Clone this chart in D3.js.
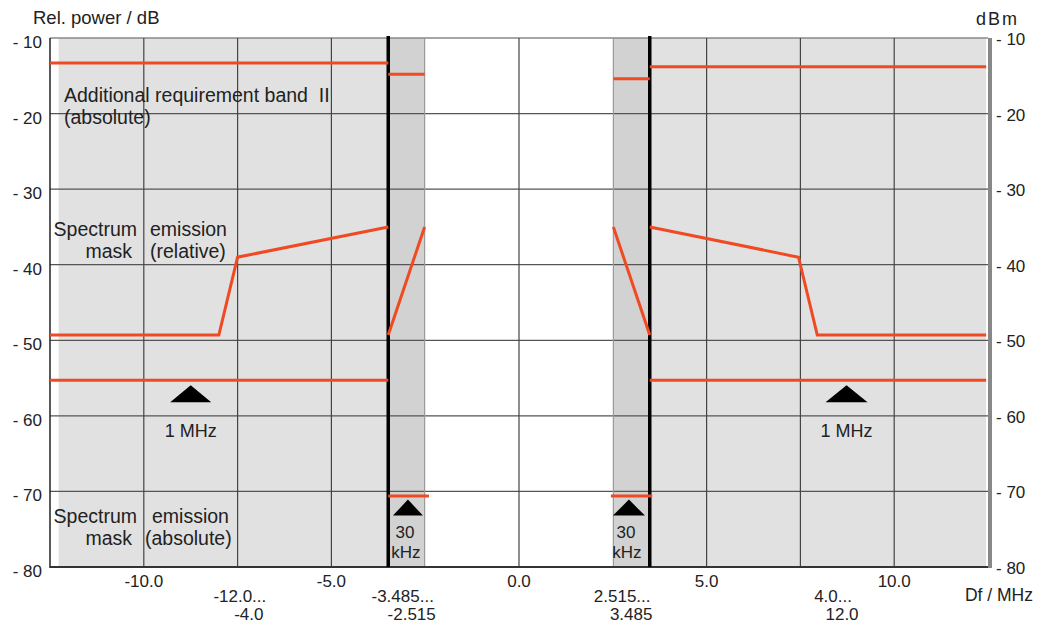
<!DOCTYPE html>
<html>
<head>
<meta charset="utf-8">
<script src="https://cdn.jsdelivr.net/npm/d3@7"></script>
<style>
  body { margin: 0; background: #fff; }
  text { font-family: "Liberation Sans", Arial, sans-serif; fill: #222; }
</style>
</head>
<body>
<div id="chart"></div>
<script>
// y ticks (dB) and x ticks (MHz)
const yTicks = [-10, -20, -30, -40, -50, -60, -70, -80];
const xTicks = [-10, -5, 0, 5, 10];
const xTickLabels = ["-10.0", "-5.0", "0.0", "5.0", "10.0"];
const xGrid = [-10, -7.5, -5, -2.515, 0, 2.515, 5, 7.5, 10];
const edgeLines = [-3.485, 3.485];

// range labels under the axis: position, first line, second line
const rangePos = [-7.44, -3.1, 2.75, 8.37];
const rangeTop = ["-12.0...", "-3.485...", "2.515...", "4.0..."];
const rangeBottom = ["-4.0", "-2.515", "3.485", "12.0"];

// shaded regions
const lightBands = [[-12.27, -3.485], [3.485, 12.45]];
const darkBands = [[-3.485, -2.515], [2.515, 3.485]];

// mask segments, [MHz, dB]
const addReq = [
  [[-12.5, -13.3], [-3.485, -13.3]],
  [[-3.485, -14.8], [-2.515, -14.8]],
  [[2.515, -15.4], [3.485, -15.4]],
  [[3.485, -13.8], [12.45, -13.8]]
];
const relMask = [
  [[-12.5, -49.3], [-8.0, -49.3], [-7.5, -39], [-3.485, -35]],
  [[-3.485, -49.3], [-2.515, -35]],
  [[2.515, -35], [3.485, -49.3]],
  [[3.485, -35], [7.45, -39], [7.95, -49.3], [12.45, -49.3]]
];
const absMask1M = [
  [[-12.5, -55.3], [-3.485, -55.3]],
  [[3.485, -55.3], [12.45, -55.3]]
];
const absMask30k = [
  [[-3.485, -70.6], [-2.4, -70.6]],
  [[2.45, -70.6], [3.55, -70.6]]
];

// resolution bandwidth markers
const rbwX = [-8.75, 8.73, -2.96, 2.93];
const rbwY = [-58.2, -58.2, -73.2, -73.2];
const rbwW = [41, 42, 30, 32];
const rbwH = [17, 17, 16, 16];

const width = 1045, height = 625;
const svg = d3.select("#chart").append("svg")
  .attr("width", width).attr("height", height);

const x = d3.scaleLinear().domain([-12.5, 12.5]).range([50, 988]);
const y = d3.scaleLinear().domain([-10, -80]).range([38, 567]);

// backgrounds
svg.selectAll(".light").data(lightBands).join("rect")
  .attr("x", d => x(d[0])).attr("width", d => x(d[1]) - x(d[0]))
  .attr("y", y(-10)).attr("height", y(-80) - y(-10))
  .attr("fill", "#e1e1e1");
svg.selectAll(".dark").data(darkBands).join("rect")
  .attr("x", d => x(d[0])).attr("width", d => x(d[1]) - x(d[0]))
  .attr("y", y(-10)).attr("height", y(-80) - y(-10))
  .attr("fill", "#d2d2d2");

// grid
svg.selectAll(".hgrid").data(yTicks).join("line")
  .attr("x1", x(-12.5)).attr("x2", x(12.5))
  .attr("y1", d => y(d)).attr("y2", d => y(d))
  .attr("stroke", d => d === -10 ? "#888" : "#555").attr("stroke-width", 1.3);
svg.selectAll(".vgrid").data(xGrid).join("line")
  .attr("x1", d => x(d)).attr("x2", d => x(d))
  .attr("y1", y(-10)).attr("y2", y(-80))
  .attr("stroke", d => Math.abs(d) === 2.515 ? "#999" : "#444").attr("stroke-width", 1.2);

// axes frame
svg.append("line").attr("x1", x(-12.5)).attr("x2", x(-12.5))
  .attr("y1", y(-10)).attr("y2", y(-80) + 1).attr("stroke", "#222").attr("stroke-width", 1.5);
svg.append("line").attr("x1", x(-12.5)).attr("x2", x(12.5) + 3)
  .attr("y1", y(-80)).attr("y2", y(-80)).attr("stroke", "#333").attr("stroke-width", 1.8);
svg.append("line").attr("x1", x(12.5) + 2).attr("x2", x(12.5) + 2)
  .attr("y1", y(-10)).attr("y2", y(-80) + 1).attr("stroke", "#888").attr("stroke-width", 4);

// tick labels
svg.selectAll(".yl").data(yTicks).join("text")
  .attr("x", 42).attr("y", d => y(d) + 10)
  .attr("text-anchor", "end").attr("font-size", 17)
  .text(d => "- " + Math.abs(d));
svg.selectAll(".yr").data(yTicks).join("text")
  .attr("x", 996).attr("y", d => y(d) + 7)
  .attr("font-size", 17)
  .text(d => "- " + Math.abs(d));
svg.selectAll(".xl").data(xTicks).join("text")
  .attr("x", d => x(d)).attr("y", 587)
  .attr("text-anchor", "middle").attr("font-size", 17)
  .text((d, i) => xTickLabels[i]);

svg.selectAll(".rt").data(rangePos).join("text")
  .attr("x", d => x(d)).attr("y", 602)
  .attr("text-anchor", "middle").attr("font-size", 17)
  .text((d, i) => rangeTop[i]);
svg.selectAll(".rb").data(rangePos).join("text")
  .attr("x", d => x(d) + 9).attr("y", 620)
  .attr("text-anchor", "middle").attr("font-size", 17)
  .text((d, i) => rangeBottom[i]);

svg.append("text").attr("x", 33).attr("y", 24).attr("font-size", 18.5).text("Rel. power / dB");
svg.append("text").attr("x", 976).attr("y", 25).attr("font-size", 18)
  .attr("letter-spacing", 2).text("dBm");
svg.append("text").attr("x", 1033).attr("y", 601).attr("text-anchor", "end")
  .attr("font-size", 17.5).text("Df / MHz");

// band edge lines
svg.selectAll(".edge").data(edgeLines).join("line")
  .attr("x1", d => x(d)).attr("x2", d => x(d))
  .attr("y1", y(-10) - 2).attr("y2", y(-80))
  .attr("stroke", "#000").attr("stroke-width", 3.5);

// mask lines
const line = d3.line().x(d => x(d[0])).y(d => y(d[1]));
[addReq, relMask, absMask1M, absMask30k].forEach(series => {
  svg.append("g").selectAll("path").data(series).join("path")
    .attr("d", line).attr("fill", "none")
    .attr("stroke", "#ef4a22").attr("stroke-width", 3);
});

// triangles
svg.selectAll(".tri").data(rbwX).join("path")
  .attr("d", (d, i) => {
    const cx = x(d), by = y(rbwY[i]), w = rbwW[i] / 2;
    return `M${cx - w},${by}L${cx},${by - rbwH[i]}L${cx + w},${by}Z`;
  })
  .attr("fill", "#000");

// marker labels
svg.selectAll(".mhz").data(rbwX.slice(0, 2)).join("text")
  .attr("x", d => x(d)).attr("y", 437)
  .attr("text-anchor", "middle").attr("font-size", 18).text("1 MHz");
svg.selectAll(".k30").data(rbwX.slice(2)).join("text")
  .attr("x", d => x(d) - 3).attr("y", 538)
  .attr("text-anchor", "middle").attr("font-size", 17).text("30");
svg.selectAll(".khz").data(rbwX.slice(2)).join("text")
  .attr("x", d => x(d) - 2).attr("y", 558)
  .attr("text-anchor", "middle").attr("font-size", 17).text("kHz");

// annotations
function note(tx, ty, anchor, s) {
  svg.append("text").attr("x", tx).attr("y", ty).attr("text-anchor", anchor)
    .attr("font-size", 19.5).attr("xml:space", "preserve").text(s);
}
note(64, 102, "start", "Additional requirement band  II");
note(64, 124, "start", "(absolute)");
note(137, 236, "end", "Spectrum");
note(150, 236, "start", "emission");
note(132, 258, "end", "mask");
note(150, 258, "start", "(relative)");
note(137, 523, "end", "Spectrum");
note(152, 523, "start", "emission");
note(132, 545, "end", "mask");
note(145, 545, "start", "(absolute)");
</script>
</body>
</html>
